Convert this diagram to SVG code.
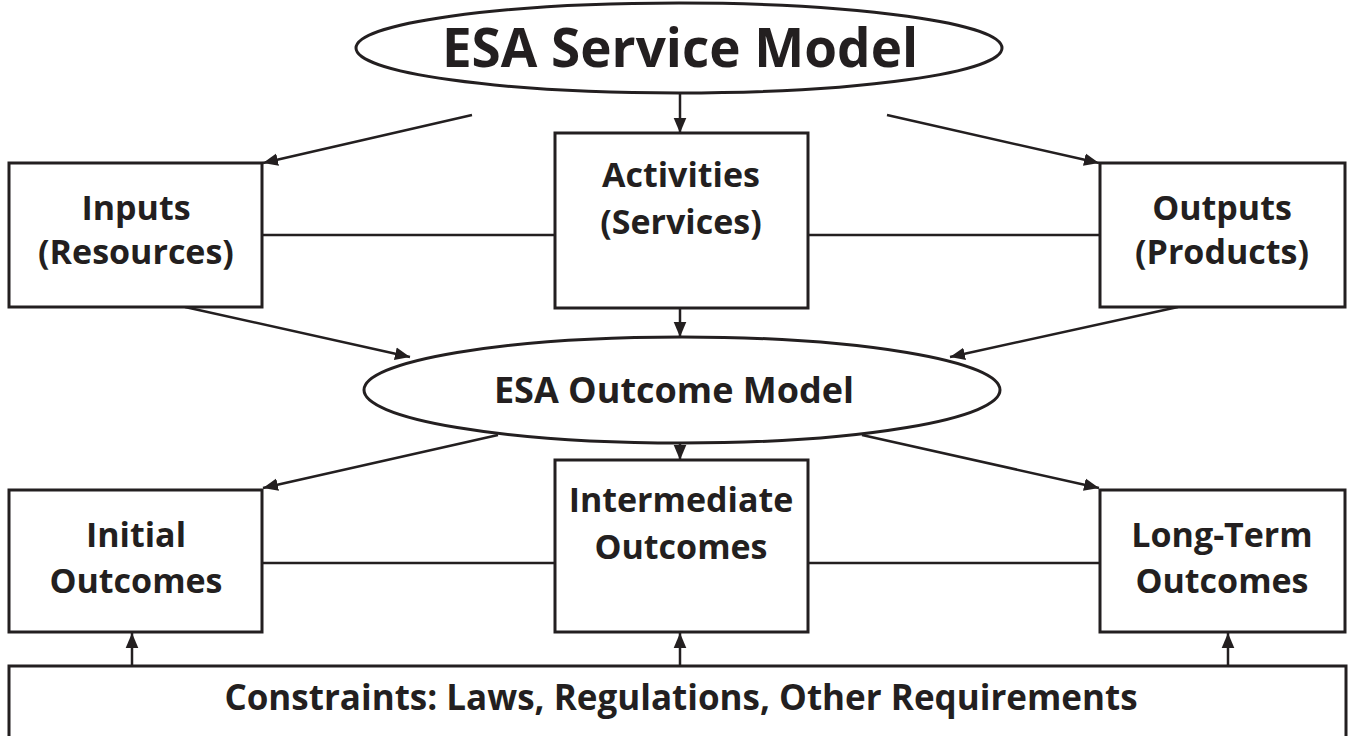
<svg xmlns="http://www.w3.org/2000/svg" width="1354" height="736" viewBox="0 0 1354 736">
  <style>
    .shape { fill: #ffffff; stroke: #231f20; stroke-width: 3; }
    .link { fill: none; stroke: #231f20; stroke-width: 2.5; }
    .lbl { font-family: "Open Sans", "Noto Sans", sans-serif; font-weight: bold; fill: #231f20; text-anchor: middle; }
    .big { font-size: 53px; }
    .mid { font-size: 34px; }
    .oval { font-size: 36px; }
    .wide { font-size: 35px; }
  </style>
  <defs>
    <marker id="arrow" viewBox="0 0 10 10" refX="10" refY="5" markerWidth="6" markerHeight="6" markerUnits="strokeWidth" orient="auto">
      <path d="M0,0.8 L10,5 L0,9.2 z" fill="#231f20"/>
    </marker>
  </defs>

  <rect width="1354" height="736" fill="#ffffff"/>

  <!-- connectors -->
  <g id="connectors">
    <line class="link" x1="262" y1="235" x2="555" y2="235"/>
    <line class="link" x1="808" y1="235" x2="1100" y2="235"/>
    <line class="link" x1="262" y1="563" x2="555" y2="563"/>
    <line class="link" x1="808" y1="563" x2="1100" y2="563"/>

    <line class="link" x1="472" y1="115" x2="263" y2="163" marker-end="url(#arrow)"/>
    <line class="link" x1="680" y1="93" x2="680" y2="133" marker-end="url(#arrow)"/>
    <line class="link" x1="887" y1="115" x2="1099" y2="163" marker-end="url(#arrow)"/>

    <line class="link" x1="185" y1="307" x2="410" y2="357" marker-end="url(#arrow)"/>
    <line class="link" x1="680" y1="308" x2="680" y2="337" marker-end="url(#arrow)"/>
    <line class="link" x1="1178" y1="307" x2="950" y2="357" marker-end="url(#arrow)"/>

    <line class="link" x1="498" y1="435" x2="263" y2="488" marker-end="url(#arrow)"/>
    <line class="link" x1="680" y1="443" x2="680" y2="460" marker-end="url(#arrow)"/>
    <line class="link" x1="862" y1="435" x2="1099" y2="488" marker-end="url(#arrow)"/>

    <line class="link" x1="132" y1="666" x2="132" y2="633" marker-end="url(#arrow)"/>
    <line class="link" x1="680" y1="666" x2="680" y2="633" marker-end="url(#arrow)"/>
    <line class="link" x1="1228" y1="666" x2="1228" y2="633" marker-end="url(#arrow)"/>
  </g>

  <g id="service-model">
    <ellipse class="shape" cx="679" cy="48" rx="323" ry="45"/>
    <text class="lbl big" x="680" y="67">ESA Service Model</text>
  </g>

  <g id="inputs">
    <rect class="shape" x="9" y="163" width="253" height="144"/>
    <text class="lbl mid" x="136" y="220">Inputs</text>
    <text class="lbl mid" x="136" y="264">(Resources)</text>
  </g>

  <g id="activities">
    <rect class="shape" x="555" y="133" width="253" height="175"/>
    <text class="lbl mid" x="681" y="187">Activities</text>
    <text class="lbl mid" x="681" y="234">(Services)</text>
  </g>

  <g id="outputs">
    <rect class="shape" x="1100" y="163" width="245" height="144"/>
    <text class="lbl mid" x="1222" y="220">Outputs</text>
    <text class="lbl mid" x="1222" y="264">(Products)</text>
  </g>

  <g id="outcome-model">
    <ellipse class="shape" cx="682" cy="390" rx="318" ry="53"/>
    <text class="lbl oval" x="674" y="403">ESA Outcome Model</text>
  </g>

  <g id="initial">
    <rect class="shape" x="9" y="490" width="253" height="142"/>
    <text class="lbl mid" x="136" y="547">Initial</text>
    <text class="lbl mid" x="136" y="593">Outcomes</text>
  </g>

  <g id="intermediate">
    <rect class="shape" x="555" y="460" width="253" height="172"/>
    <text class="lbl mid" x="681" y="512">Intermediate</text>
    <text class="lbl mid" x="681" y="559">Outcomes</text>
  </g>

  <g id="long-term">
    <rect class="shape" x="1100" y="490" width="245" height="142"/>
    <text class="lbl mid" x="1222" y="547">Long-Term</text>
    <text class="lbl mid" x="1222" y="593">Outcomes</text>
  </g>

  <g id="constraints">
    <rect class="shape" x="9" y="666" width="1337" height="90"/>
    <text class="lbl wide" x="681" y="710">Constraints: Laws, Regulations, Other Requirements</text>
  </g>
</svg>
